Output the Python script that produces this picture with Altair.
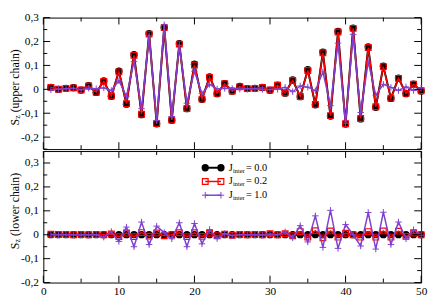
import altair as alt
import pandas as pd

# ---------------- data ----------------
SITES = [1, 2, 3, 4, 5, 6, 7, 8, 9, 10, 11, 12, 13, 14, 15, 16, 17, 18, 19, 20,
         21, 22, 23, 24, 25, 26, 27, 28, 29, 30, 31, 32, 33, 34, 35, 36, 37, 38, 39, 40,
         41, 42, 43, 44, 45, 46, 47, 48, 49, 50]

UP_J00 = [0.008, 0.0, 0.004, 0.007, -0.003, 0.015, -0.013, 0.035, -0.029, 0.076,
          -0.062, 0.145, -0.106, 0.233, -0.144, 0.259, -0.129, 0.191, -0.081, 0.105,
          -0.042, 0.052, -0.018, 0.024, -0.008, 0.012, 0.003, 0.004, 0.008, -0.004,
          0.018, -0.016, 0.039, -0.031, 0.082, -0.065, 0.156, -0.112, 0.242, -0.145,
          0.256, -0.124, 0.178, -0.075, 0.097, -0.038, 0.047, -0.018, 0.022, -0.007]
UP_J02 = [0.008, 0.0, 0.004, 0.006, -0.003, 0.014, -0.012, 0.033, -0.028, 0.073,
          -0.060, 0.142, -0.104, 0.231, -0.143, 0.258, -0.128, 0.189, -0.080, 0.102,
          -0.041, 0.050, -0.017, 0.023, -0.007, 0.011, 0.003, 0.004, 0.008, -0.003,
          0.017, -0.015, 0.037, -0.030, 0.079, -0.063, 0.153, -0.110, 0.240, -0.144,
          0.255, -0.122, 0.175, -0.073, 0.095, -0.037, 0.046, -0.017, 0.021, -0.006]
UP_J10 = [-0.002, 0.0, 0.002, 0.004, -0.002, 0.005, 0.002, 0.006, -0.005, 0.036,
          -0.029, 0.116, -0.081, 0.224, -0.130, 0.270, -0.114, 0.184, -0.058, 0.076,
          -0.018, 0.021, 0.001, 0.004, 0.003, 0.001, 0.002, 0.002, 0.0, -0.001,
          0.0, 0.008, -0.010, 0.014, 0.009, -0.006, 0.073, -0.068, 0.193, -0.142,
          0.230, -0.097, 0.115, -0.025, 0.021, 0.008, -0.005, 0.010, -0.005, 0.005]

LO_J00 = [0.0, 0.0, 0.0, 0.0, 0.0, 0.0, 0.0, 0.0, 0.0, 0.0,
          0.0, 0.0, 0.0, 0.0, 0.0, 0.0, 0.0, 0.0, 0.0, 0.0,
          0.0, 0.0, 0.0, 0.0, 0.0, 0.0, 0.0, 0.0, 0.0, 0.0,
          0.0, 0.0, 0.0, 0.0, 0.0, 0.0, 0.0, 0.0, 0.0, 0.0,
          0.0, 0.0, 0.0, 0.0, 0.0, 0.0, 0.0, 0.0, 0.0, 0.0]
LO_J02 = [0.002, 0.001, 0.001, 0.0, 0.001, 0.0, 0.001, 0.0, 0.003, -0.008,
          0.007, -0.008, 0.009, -0.006, 0.007, -0.004, 0.0, 0.008, -0.008, 0.008,
          -0.007, 0.006, -0.004, 0.002, -0.002, 0.001, 0.0, 0.001, 0.0, 0.004,
          0.0, 0.004, -0.004, 0.013, -0.010, 0.017, -0.013, 0.016, -0.010, 0.006,
          0.0, -0.010, 0.013, -0.010, 0.016, -0.010, 0.015, -0.007, 0.007, 0.0]
LO_J10 = [0.0, 0.0, 0.0, 0.0, 0.0, 0.0, 0.0, -0.010, 0.013, -0.028,
          0.032, -0.050, 0.053, -0.041, 0.036, 0.009, -0.017, 0.050, -0.050, 0.047,
          -0.038, 0.022, -0.016, 0.005, -0.004, 0.0, 0.0, 0.0, -0.001, -0.001,
          0.0, 0.012, -0.013, 0.038, -0.030, 0.079, -0.053, 0.102, -0.057, 0.043,
          0.0, -0.047, 0.093, -0.060, 0.094, -0.041, 0.053, -0.017, 0.021, -0.002]

LEGEND_VALUES = ["= 0.0", "= 0.2", "= 1.0"]

X_MAJOR = [0, 10, 20, 30, 40, 50]
X_MINOR = [5, 15, 25, 35, 45]
Y_MAJOR = [-0.2, -0.1, 0.0, 0.1, 0.2, 0.3]
Y_MINOR_UP = [-0.25, -0.15, -0.05, 0.05, 0.15, 0.25]
Y_MINOR_LO = [-0.15, -0.05, 0.05, 0.15, 0.25]
UP_DOMAIN = [-0.25, 0.3]
LO_DOMAIN = [-0.2, 0.35]

# ---------------- styles ----------------
W, H = 385, 134
FONT = "Liberation Serif"
PURPLE = "#7f40d0"
PLUS = "M-1,0H1M0,-1V1"
MAJ, MIN = 7, 4

STYLES = [
    dict(color="black", lw=2.0, shape="circle", filled=True, size=55, sw=1),
    dict(color="red", lw=1.5, shape="square", filled=False, size=34, sw=1.2),
    dict(color=PURPLE, lw=1.5, shape=PLUS, filled=False, size=44, sw=1),
]

LABEL_EXPR = ("datum.value == 0 ? '0' : (datum.value < 0 ? '-' : '') + "
              "replace(format(abs(datum.value), '.1f'), '.', ',')")

one = pd.DataFrame({"k": [0]})


def panel(series_vals, ydomain, yminor, title_word, title_y, show_x, legend):
    xs = alt.Scale(domain=[0, 50], nice=False, zero=False)
    ys = alt.Scale(domain=ydomain, nice=False, zero=False)
    xaxis = alt.Axis(values=X_MAJOR, ticks=False, tickSize=0, domain=False, grid=False,
                     title=None, labelFont=FONT, labelFontSize=11.5, labelColor="black",
                     labelPadding=3, labelFlush=False) if show_x else None
    yaxis = alt.Axis(values=Y_MAJOR, ticks=False, tickSize=0, domain=False, grid=False,
                     title=None, labelFont=FONT, labelFontSize=11.5, labelColor="black",
                     labelPadding=5, labelFlush=False, labelExpr=LABEL_EXPR)
    layers = []
    for vals, st in zip(series_vals, STYLES):
        df = pd.DataFrame({"site": SITES, "sz": vals})
        enc = dict(x=alt.X("site:Q", scale=xs, axis=xaxis),
                   y=alt.Y("sz:Q", scale=ys, axis=yaxis))
        layers.append(alt.Chart(df).mark_line(color=st["color"], strokeWidth=st["lw"]).encode(**enc))
        layers.append(alt.Chart(df).mark_point(shape=st["shape"], filled=st["filled"], color=st["color"],
                                               size=st["size"], strokeWidth=st["sw"], opacity=1)
                      .encode(**enc))

    # inward ticks
    for vals, ln in ((X_MAJOR, MAJ), (X_MINOR, MIN)):
        d = pd.DataFrame({"site": vals})
        xe = alt.X("site:Q", scale=xs, axis=xaxis)
        layers.append(alt.Chart(d).mark_rule(color="black", strokeWidth=1)
                      .encode(x=xe, y=alt.value(0), y2=alt.value(ln)))
        layers.append(alt.Chart(d).mark_rule(color="black", strokeWidth=1)
                      .encode(x=xe, y=alt.value(H), y2=alt.value(H - ln)))
    for vals, ln in ((Y_MAJOR, MAJ), (yminor, MIN)):
        d = pd.DataFrame({"sz": vals})
        ye = alt.Y("sz:Q", scale=ys, axis=yaxis)
        layers.append(alt.Chart(d).mark_rule(color="black", strokeWidth=1)
                      .encode(y=ye, x=alt.value(0), x2=alt.value(ln)))
        layers.append(alt.Chart(d).mark_rule(color="black", strokeWidth=1)
                      .encode(y=ye, x=alt.value(W), x2=alt.value(W - ln)))

    # y title with subscript
    tx = -29
    for txt, dx, dy, fs in (("S", 0, 0, 12), ("z", 6.8, 3, 8), ("(" + title_word + " chain)", 13.5, 0, 12)):
        layers.append(alt.Chart(one).mark_text(angle=270, align="left", baseline="middle", font=FONT,
                                               fontSize=fs, color="black", dx=dx, dy=dy)
                      .encode(x=alt.value(tx), y=alt.value(title_y), text=alt.value(txt)))

    if legend:
        lx0, lx1, tx0 = 161, 185, 189
        for row, (st, lab) in enumerate(zip(STYLES, LEGEND_VALUES)):
            ry = 17 + 14 * row
            layers.append(alt.Chart(one).mark_rule(color=st["color"], strokeWidth=st["lw"])
                          .encode(x=alt.value(lx0 + 4), x2=alt.value(lx1 - 4), y=alt.value(ry)))
            for px in (lx0 + 4, lx1 - 4):
                layers.append(alt.Chart(one).mark_point(shape=st["shape"], filled=st["filled"],
                                                        color=st["color"], size=st["size"],
                                                        strokeWidth=st["sw"], opacity=1)
                              .encode(x=alt.value(px), y=alt.value(ry)))
            for txt, dx, dy, fs in (("J", 0, 0, 10.5), ("inter", 4.3, 3, 6.5), (lab, 17.5, 0, 10.5)):
                layers.append(alt.Chart(one).mark_text(align="left", baseline="middle", font=FONT,
                                                       fontSize=fs, color="black", dx=dx, dy=dy)
                              .encode(x=alt.value(tx0), y=alt.value(ry), text=alt.value(txt)))

    return alt.layer(*layers).properties(width=W, height=H)


upper = panel([UP_J00, UP_J02, UP_J10], UP_DOMAIN, Y_MINOR_UP, "upper", 110, False, False)
lower = panel([LO_J00, LO_J02, LO_J10], LO_DOMAIN, Y_MINOR_LO, "lower", 100, True, True)

chart = (alt.vconcat(upper, lower, spacing=0)
         .properties(padding=0)
         .configure_axis(labelFont=FONT, labelFontSize=11.5, labelColor="black")
         .configure_view(stroke="black", strokeWidth=1))

chart.save("out.html", embed_options={"renderer": "svg", "actions": False})
